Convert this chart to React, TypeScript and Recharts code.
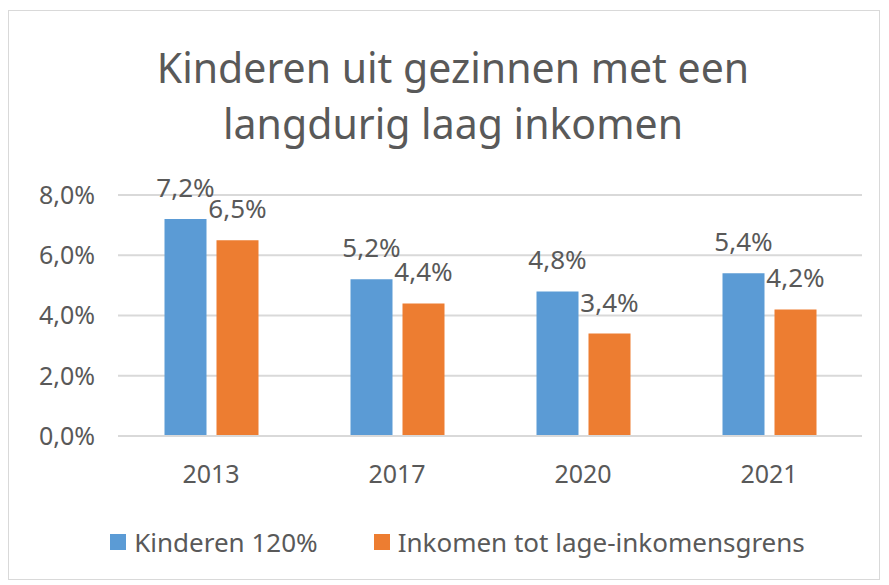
import { Bar, BarChart, CartesianGrid, LabelList, Legend, XAxis, YAxis } from "recharts";

const years = ["2013", "2017", "2020", "2021"];
const kinderen120 = [7.2, 5.2, 4.8, 5.4];
const lageInkomensgrens = [6.5, 4.4, 3.4, 4.2];
const yTicks = [0, 2, 4, 6, 8];

const BLUE = "#5b9bd5";
const ORANGE = "#ed7d31";
const TEXT = "#595959";
const FONT = "'Noto Sans', sans-serif";

const data = years.map((year, i) => ({
  year,
  k120: kinderen120[i],
  lig: lageInkomensgrens[i],
}));

const pct = (v: number) => v.toFixed(1).replace(".", ",") + "%";

function LegendContent() {
  const items = [
    { name: "Kinderen 120%", color: BLUE },
    { name: "Inkomen tot lage-inkomensgrens", color: ORANGE },
  ];
  return (
    <div style={{ display: "flex", justifyContent: "center", gap: 56, fontFamily: FONT, fontSize: 26, color: TEXT, paddingLeft: 26 }}>
      {items.map((it) => (
        <div key={it.name} style={{ display: "flex", alignItems: "center" }}>
          <span style={{ display: "inline-block", width: 16, height: 16, background: it.color, marginRight: 8 }} />
          {it.name}
        </div>
      ))}
    </div>
  );
}

export default function App() {
  return (
    <div style={{ position: "absolute", left: 0, top: 0, width: 889, height: 585, background: "#fff" }}>
      <div
        style={{
          position: "absolute",
          left: 8,
          top: 10,
          width: 872,
          height: 570,
          border: "1px solid #d9d9d9",
          boxSizing: "border-box",
        }}
      />
      <div
        style={{
          position: "absolute",
          left: 0,
          top: 39,
          width: 906,
          textAlign: "center",
          fontFamily: FONT,
          fontSize: 41,
          lineHeight: "56px",
          color: TEXT,
        }}
      >
        Kinderen uit gezinnen met een
        <br />
        langdurig laag inkomen
      </div>
      <div style={{ position: "absolute", left: 0, top: 0 }}>
        <BarChart
          width={889}
          height={585}
          data={data}
          margin={{ top: 195, right: 27, left: 0, bottom: 79 }}
          barCategoryGap="25%"
          barGap={10}
        >
          <CartesianGrid vertical={false} stroke="#d9d9d9" strokeWidth={2} />
          <XAxis
            dataKey="year"
            height={30}
            axisLine={{ stroke: "#d9d9d9", strokeWidth: 2 }}
            tickLine={false}
            tickSize={0}
            tickMargin={29}
            tick={{ fill: TEXT, fontSize: 25, fontFamily: FONT }}
          />
          <YAxis
            width={118}
            domain={[0, 8]}
            ticks={yTicks}
            tickFormatter={pct}
            axisLine={false}
            tickLine={false}
            tickSize={0}
            tickMargin={23}
            tick={{ fill: TEXT, fontSize: 25, fontFamily: FONT }}
          />
          <Legend height={40} wrapperStyle={{ top: 524, bottom: "auto", left: 0, width: 889 }} content={<LegendContent />} />
          <Bar dataKey="k120" name="Kinderen 120%" fill={BLUE} isAnimationActive={false}>
            <LabelList dataKey="k120" position="top" offset={22} formatter={pct} fill={TEXT} fontSize={26} fontFamily={FONT} />
          </Bar>
          <Bar dataKey="lig" name="Inkomen tot lage-inkomensgrens" fill={ORANGE} isAnimationActive={false}>
            <LabelList dataKey="lig" position="top" offset={22} formatter={pct} fill={TEXT} fontSize={26} fontFamily={FONT} />
          </Bar>
        </BarChart>
      </div>
    </div>
  );
}
